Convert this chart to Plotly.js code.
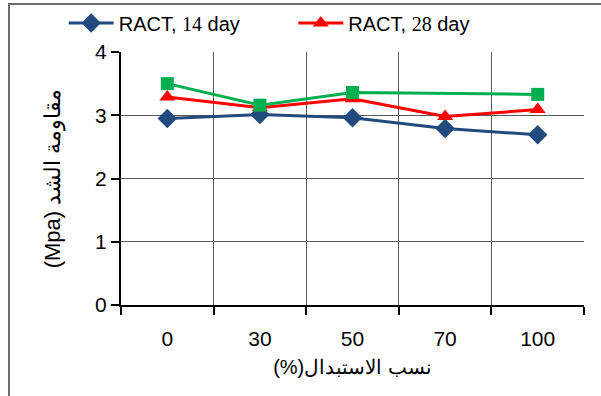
<!DOCTYPE html>
<html>
<head>
<meta charset="utf-8">
<script src="https://cdn.plot.ly/plotly-3.0.1.min.js"></script>
<style>
  html, body { margin: 0; padding: 0; background: #fff; }
  #chart { width: 601px; height: 396px; position: absolute; left: 0; top: 0; }
  #frame { position: absolute; left: 8px; top: 3px; width: 600px; height: 400px;
           border-left: 2px solid #6e6e6e; border-top: 2px solid #6e6e6e; pointer-events: none; }
</style>
</head>
<body>
<div id="chart"></div>
<div id="frame"></div>
<script>
const categories = ["0", "30", "50", "70", "100"];
const ract14 = [2.95, 3.01, 2.96, 2.79, 2.69];
const ract28 = [3.29, 3.12, 3.26, 2.98, 3.09];
const ract90 = [3.50, 3.16, 3.36, null, 3.33];
const seriesNames = ["RACT, <span style=\"font-family:'Liberation Serif'\">14</span> day",
                     "RACT, <span style=\"font-family:'Liberation Serif'\">28</span> day",
                     "RACT, 90 day"];

const traces = [
  { x: categories, y: ract14, name: seriesNames[0], type: 'scatter', mode: 'lines+markers', legend: 'legend',
    line: { color: '#214B7E', width: 3 }, marker: { symbol: 'diamond', size: 15, color: '#214B7E' } },
  { x: categories, y: ract28, name: seriesNames[1], type: 'scatter', mode: 'lines+markers', legend: 'legend2',
    line: { color: '#FF0000', width: 3 }, marker: { symbol: 'triangle-up', size: 14, color: '#FF0000' } },
  { x: categories, y: ract90, name: seriesNames[2], type: 'scatter', mode: 'lines+markers', connectgaps: true,
    showlegend: false,
    line: { color: '#00B050', width: 3 }, marker: { symbol: 'square', size: 13, color: '#00B050' } }
];

const legendStyle = (x) => ({
  orientation: 'h', x: x, xref: 'container', y: 0.942, yref: 'container', yanchor: 'middle',
  xanchor: 'left', font: { size: 20, color: '#000' }, bgcolor: 'rgba(0,0,0,0)', itemwidth: 45
});

const layout = {
  width: 601, height: 396,
  margin: { l: 121, r: 17, t: 52, b: 91 },
  paper_bgcolor: '#fff', plot_bgcolor: '#fff',
  font: { family: 'Liberation Sans, Arial, sans-serif', color: '#000' },
  showlegend: true,
  legend: legendStyle(0.106),
  legend2: legendStyle(0.488),
  xaxis: {
    type: 'category', range: [-0.5, 4.5], tickson: 'boundaries', ticks: 'outside', ticklen: 8, tickwidth: 2, tickcolor: '#000',
    showline: true, linecolor: '#000', linewidth: 2,
    showgrid: true, gridcolor: '#5a5a5a', gridwidth: 1,
    tickfont: { size: 21 }, ticklabelstandoff: 14,
    title: { text: '(%)نسب الاستبدال', font: { size: 20 }, standoff: 11 },
    fixedrange: true
  },
  yaxis: {
    range: [0, 4], dtick: 1, ticks: 'outside', ticklen: 8, tickwidth: 2, tickcolor: '#000',
    showline: true, linecolor: '#000', linewidth: 2,
    showgrid: true, gridcolor: '#5a5a5a', gridwidth: 1, zeroline: false,
    tickfont: { size: 21 },
    title: { text: '(Mpa) مقاومة الشد', font: { size: 22 }, standoff: 28 },
    fixedrange: true
  }
};

Plotly.newPlot('chart', traces, layout, { displayModeBar: false, staticPlot: true });
</script>
</body>
</html>
